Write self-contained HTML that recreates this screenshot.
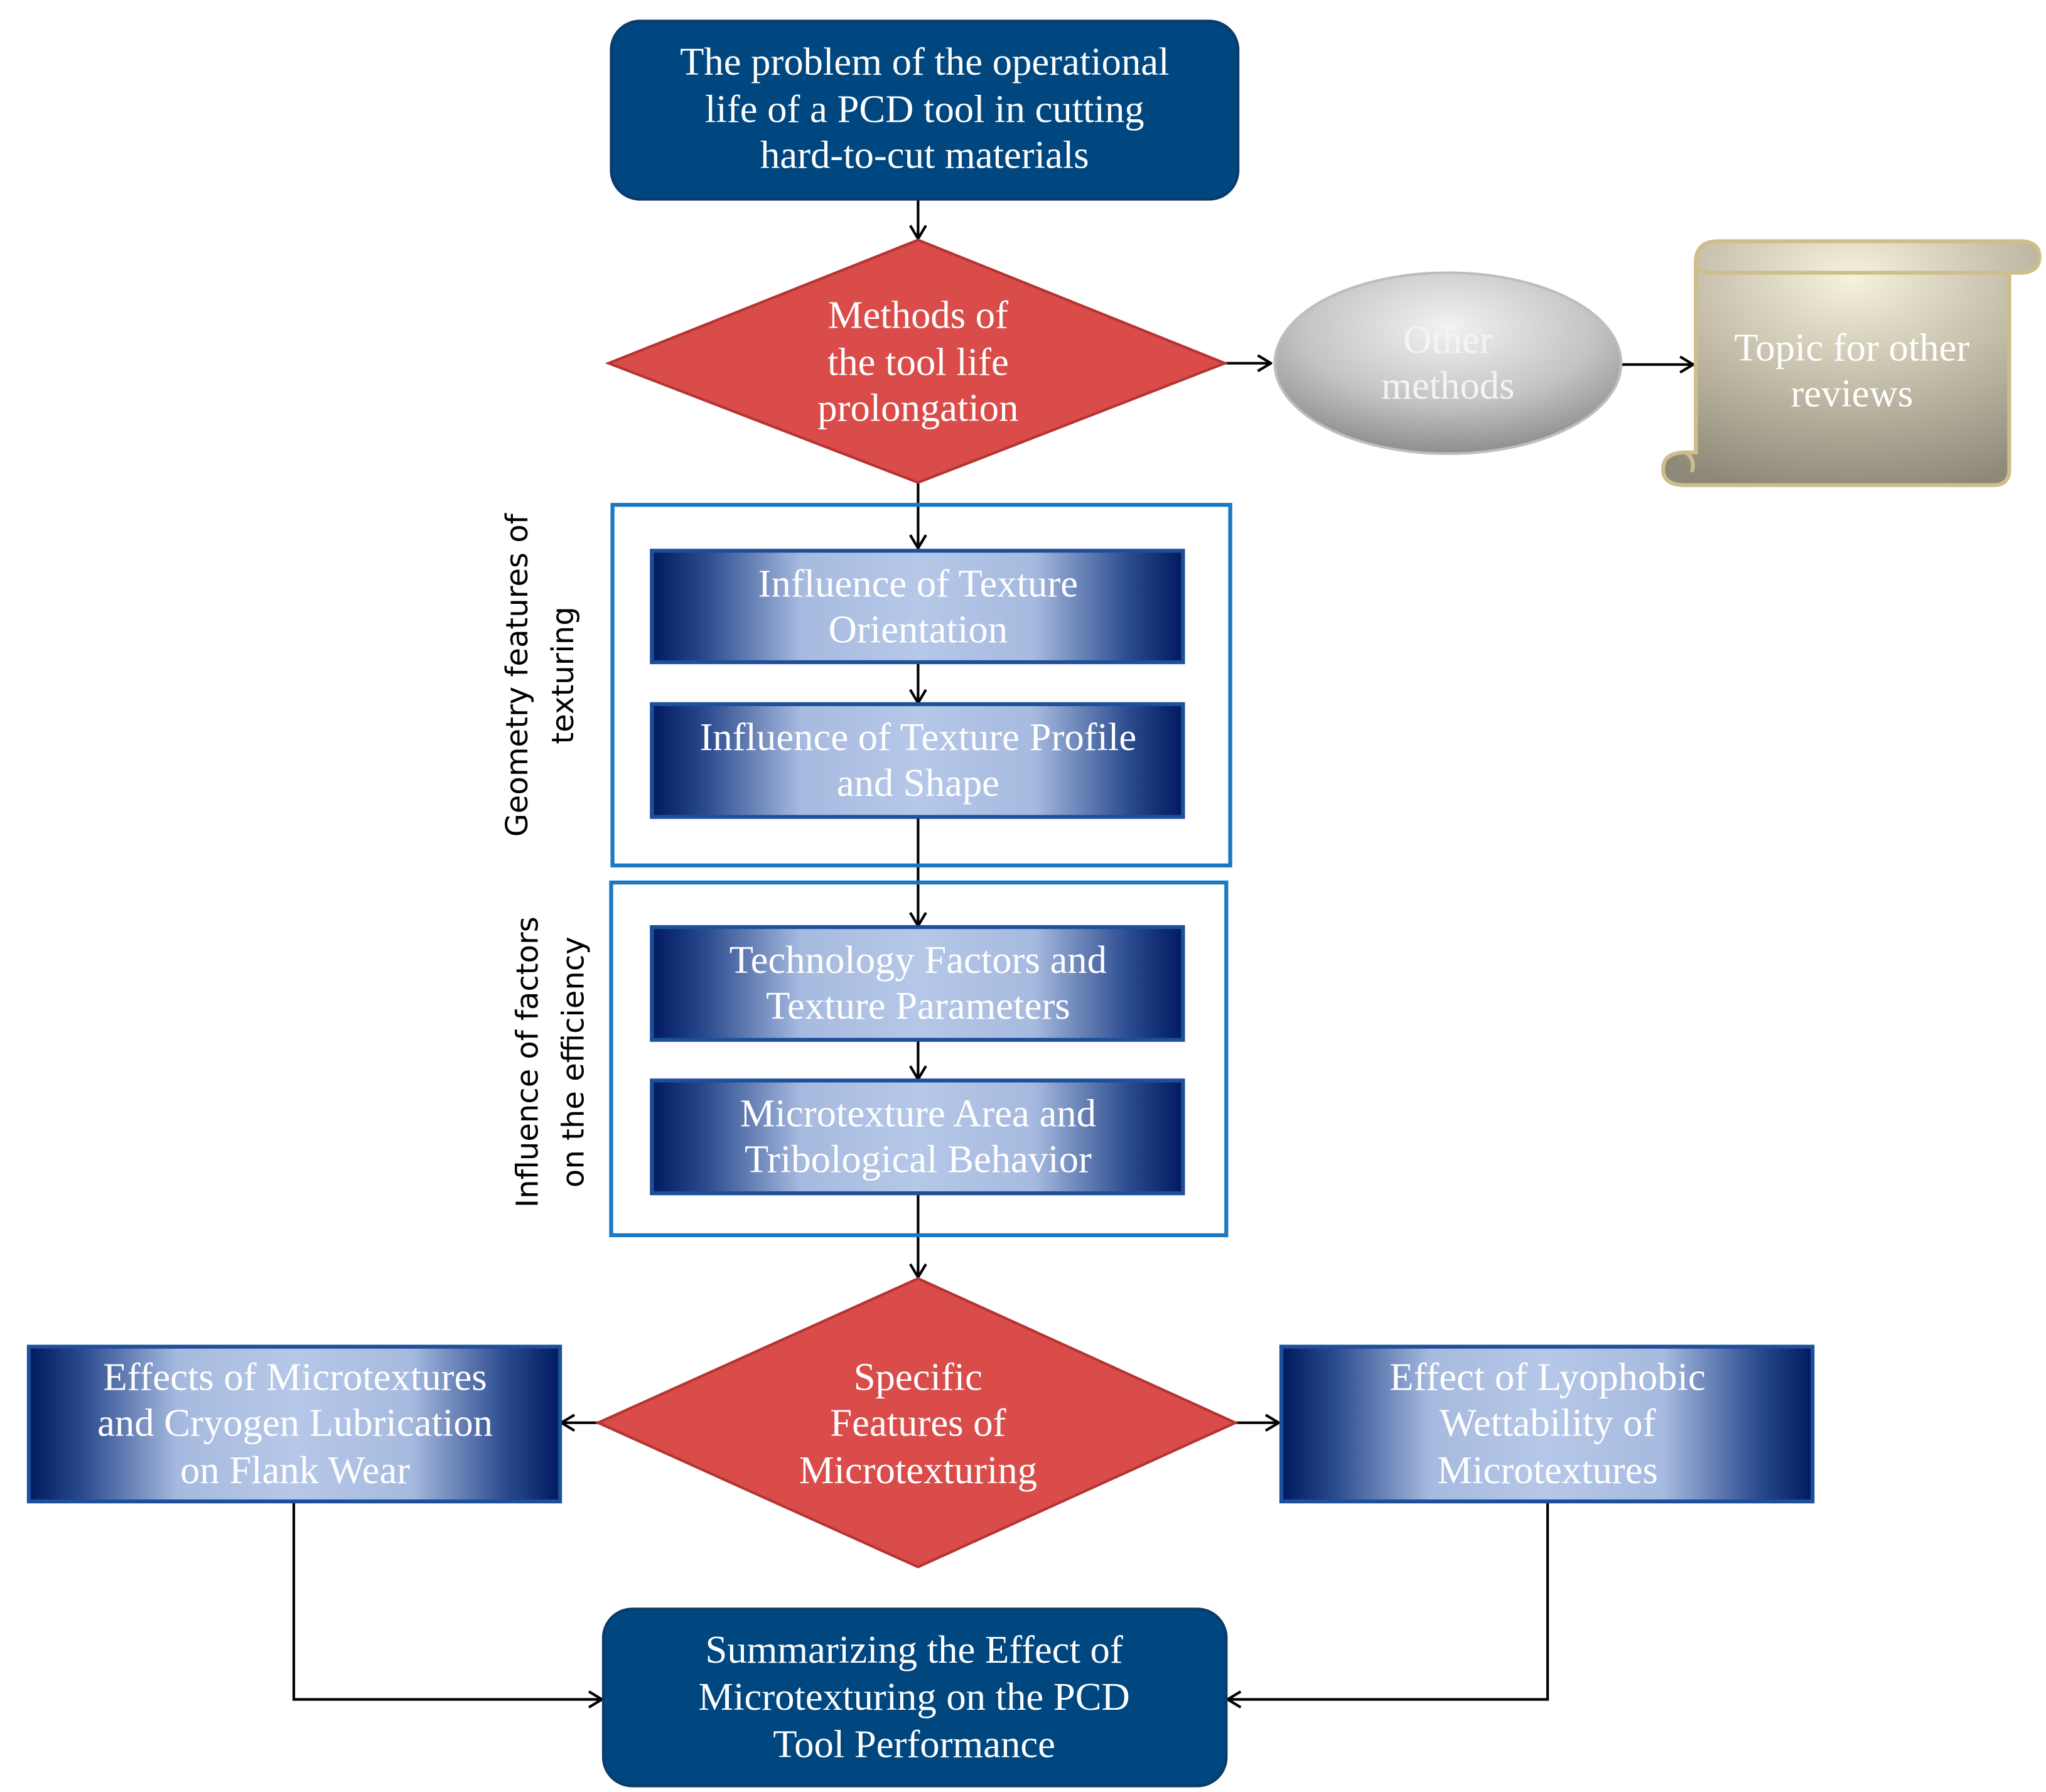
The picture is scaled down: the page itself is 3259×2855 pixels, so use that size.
<!DOCTYPE html>
<html><head><meta charset="utf-8"><style>
html,body{margin:0;padding:0;background:#fff;}
svg{display:block;}
.s{font-family:"Liberation Serif",serif;}
.d{font-family:"DejaVu Sans","Liberation Sans",sans-serif;}
</style></head><body>
<svg width="3259" height="2855" viewBox="0 0 1560 1366.6" preserveAspectRatio="none" xmlns="http://www.w3.org/2000/svg">
<defs>
<linearGradient id="bg" x1="0" y1="0" x2="1" y2="0">
<stop offset="0" stop-color="#001a5e"/><stop offset="0.1" stop-color="#2a4a8e"/>
<stop offset="0.28" stop-color="#a6badf"/><stop offset="0.5" stop-color="#b6c8e8"/>
<stop offset="0.72" stop-color="#a6badf"/><stop offset="0.9" stop-color="#2a4a8e"/>
<stop offset="1" stop-color="#001a5e"/></linearGradient>
<radialGradient id="gray" cx="0.5" cy="0.3" r="0.7">
<stop offset="0" stop-color="#f2f2f2"/><stop offset="0.6" stop-color="#c4c4c4"/><stop offset="1" stop-color="#8e8e8e"/></radialGradient>
<radialGradient id="scr" cx="0.5" cy="0.15" r="0.9">
<stop offset="0" stop-color="#f6f2dc"/><stop offset="0.5" stop-color="#c2bca8"/><stop offset="1" stop-color="#8e8878"/></radialGradient>
<marker id="ar" markerWidth="12" markerHeight="14" refX="11" refY="7" orient="auto" markerUnits="userSpaceOnUse">
<path d="M1,1 L11,7 L1,13" fill="none" stroke="#000" stroke-width="2"/></marker>
</defs>
<g stroke="#000" stroke-width="2" fill="none" marker-end="url(#ar)">
<line x1="700" y1="152" x2="700" y2="182"/>
<line x1="934" y1="277" x2="969" y2="277"/>
<line x1="1236" y1="278" x2="1291" y2="278"/>
<line x1="700" y1="368" x2="700" y2="418"/>
<line x1="700" y1="505" x2="700" y2="536"/>
<line x1="700" y1="623" x2="700" y2="706"/>
<line x1="700" y1="793" x2="700" y2="823"/>
<line x1="700" y1="910" x2="700" y2="974"/>
<line x1="456" y1="1085" x2="428" y2="1085"/>
<line x1="942" y1="1085" x2="975" y2="1085"/>
<polyline points="224,1145 224,1296 459,1296"/>
<polyline points="1180,1145 1180,1296 936,1296"/>
</g>
<rect x="467" y="385" width="471" height="275" fill="none" stroke="#1a78c2" stroke-width="3"/>
<rect x="466" y="673" width="469" height="269" fill="none" stroke="#1a78c2" stroke-width="3"/>
<rect x="466" y="16" width="478" height="136" rx="22" fill="#00467f" stroke="#0b3a6a" stroke-width="2"/>
<rect x="460" y="1227" width="475" height="135" rx="22" fill="#00467f" stroke="#0b3a6a" stroke-width="2"/>
<polygon points="700,183 934,277 700,368 464,277" fill="#d94c4a" stroke="#b53432" stroke-width="2"/>
<polygon points="700,975 942,1085 700,1195 456,1085" fill="#d94c4a" stroke="#b53432" stroke-width="2"/>
<ellipse cx="1104" cy="277" rx="132" ry="69" fill="url(#gray)" stroke="#bdbdbd" stroke-width="2"/>
<g stroke="#cdbf8c" stroke-width="3">
<path d="M1293,200 Q1293,184 1310,184 L1540,184 Q1555,184 1555,196 Q1555,208 1540,208 L1532,208 L1532,358 Q1532,370 1520,370 L1285,370 Q1268,370 1268,358 Q1268,345 1285,345 L1293,345 Z" fill="url(#scr)"/>
<path d="M1293,200 Q1293,208 1305,208 L1532,208" fill="none"/>
<path d="M1285,345 Q1293,350 1290,360" fill="none"/>
</g>
<g stroke="#1e4f9a" stroke-width="3">
<rect x="497" y="420" width="405" height="85" fill="url(#bg)"/>
<rect x="497" y="537" width="405" height="86" fill="url(#bg)"/>
<rect x="497" y="707" width="405" height="86" fill="url(#bg)"/>
<rect x="497" y="824" width="405" height="86" fill="url(#bg)"/>
<rect x="22" y="1027" width="405" height="118" fill="url(#bg)"/>
<rect x="977" y="1027" width="405" height="118" fill="url(#bg)"/>
</g>
<g class="s" fill="#fff" font-size="30" text-anchor="middle">
<text x="705" y="57">The problem of the operational</text>
<text x="705" y="93">life of a PCD tool in cutting</text>
<text x="705" y="128">hard-to-cut materials</text>
<text x="700" y="250">Methods of</text>
<text x="700" y="286">the tool life</text>
<text x="700" y="321">prolongation</text>
<text x="1104" y="269" fill="#f4f4f4">Other</text>
<text x="1104" y="304" fill="#f4f4f4">methods</text>
<text x="1412" y="275">Topic for other</text>
<text x="1412" y="310">reviews</text>
<text x="700" y="455">Influence of Texture</text>
<text x="700" y="490">Orientation</text>
<text x="700" y="572">Influence of Texture Profile</text>
<text x="700" y="607">and Shape</text>
<text x="700" y="742">Technology Factors and</text>
<text x="700" y="777">Texture Parameters</text>
<text x="700" y="859">Microtexture Area and</text>
<text x="700" y="894">Tribological  Behavior</text>
<text x="700" y="1060">Specific</text>
<text x="700" y="1095">Features of</text>
<text x="700" y="1131">Microtexturing</text>
<text x="225" y="1060">Effects of Microtextures</text>
<text x="225" y="1095">and Cryogen Lubrication</text>
<text x="225" y="1131">on Flank Wear</text>
<text x="1180" y="1060">Effect of Lyophobic</text>
<text x="1180" y="1095">Wettability of</text>
<text x="1180" y="1131">Microtextures</text>
<text x="697" y="1268">Summarizing the Effect of</text>
<text x="697" y="1304">Microtexturing on the PCD</text>
<text x="697" y="1340">Tool Performance</text>
</g>
<g class="d" fill="#000" font-size="23" text-anchor="middle">
<text transform="translate(402,515) rotate(-90)">Geometry features of</text>
<text transform="translate(437,515) rotate(-90)">texturing</text>
<text transform="translate(410,810) rotate(-90)">Influence of factors</text>
<text transform="translate(445,810) rotate(-90)">on the efficiency</text>
</g>
</svg>
</body></html>
